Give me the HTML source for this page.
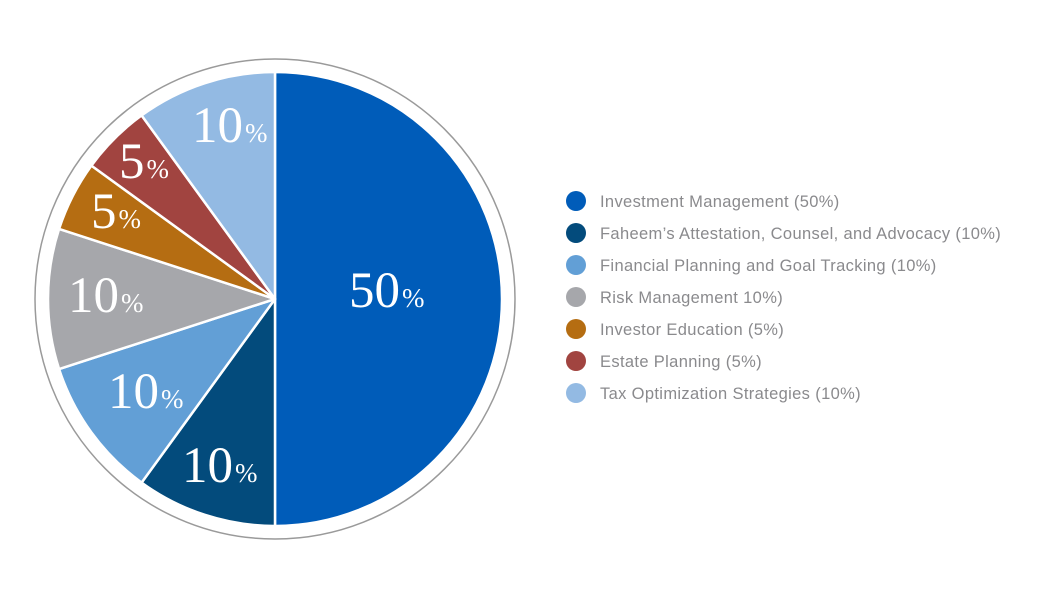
<!DOCTYPE html>
<html><head><meta charset="utf-8"><style>
html,body{margin:0;padding:0;background:#fff;width:1050px;height:600px;overflow:hidden}
svg{display:block}
.n{font-family:"Liberation Serif",serif;fill:#fff;font-size:51px}
.p{font-size:27px}
.l{font-family:"Liberation Sans",sans-serif;font-size:16.5px;fill:#8a8a8d;letter-spacing:0.35px}
</style></head><body>
<svg width="1050" height="600" viewBox="0 0 1050 600">
<circle cx="275" cy="299" r="240" fill="#fff" stroke="#9a9a9a" stroke-width="1.5"/>
<g stroke="#fff" stroke-width="2.5" stroke-linejoin="round">
<path d="M275 299 L275 72 A227 227 0 0 1 275 526 Z" fill="#005cb9"/>
<path d="M275 299 L275 526 A227 227 0 0 1 141.6 482.6 Z" fill="#034b7c"/>
<path d="M275 299 L141.6 482.6 A227 227 0 0 1 59.1 369.1 Z" fill="#629fd6"/>
<path d="M275 299 L59.1 369.1 A227 227 0 0 1 59.1 228.9 Z" fill="#a6a7ab"/>
<path d="M275 299 L59.1 228.9 A227 227 0 0 1 91.4 165.6 Z" fill="#b56d12"/>
<path d="M275 299 L91.4 165.6 A227 227 0 0 1 141.6 115.4 Z" fill="#a14440"/>
<path d="M275 299 L141.6 115.4 A227 227 0 0 1 275 72 Z" fill="#93bae3"/>
</g>
<text class="n" x="349" y="307">50<tspan class="p" dx="2">%</tspan></text>
<text class="n" x="192" y="142">10<tspan class="p" dx="2">%</tspan></text>
<text class="n" x="119" y="178">5<tspan class="p" dx="2">%</tspan></text>
<text class="n" x="91" y="228">5<tspan class="p" dx="2">%</tspan></text>
<text class="n" x="68" y="312">10<tspan class="p" dx="2">%</tspan></text>
<text class="n" x="108" y="408">10<tspan class="p" dx="2">%</tspan></text>
<text class="n" x="182" y="482">10<tspan class="p" dx="2">%</tspan></text>
<g>
<circle cx="576" cy="201" r="10" fill="#005cb9"/>
<circle cx="576" cy="233" r="10" fill="#034b7c"/>
<circle cx="576" cy="265" r="10" fill="#629fd6"/>
<circle cx="576" cy="297" r="10" fill="#a6a7ab"/>
<circle cx="576" cy="329" r="10" fill="#b56d12"/>
<circle cx="576" cy="361" r="10" fill="#a14440"/>
<circle cx="576" cy="393" r="10" fill="#93bae3"/>
</g>
<text class="l" x="600" y="207">Investment Management (50%)</text>
<text class="l" x="600" y="239">Faheem’s Attestation, Counsel, and Advocacy (10%)</text>
<text class="l" x="600" y="271">Financial Planning and Goal Tracking (10%)</text>
<text class="l" x="600" y="303">Risk Management 10%)</text>
<text class="l" x="600" y="335">Investor Education (5%)</text>
<text class="l" x="600" y="367">Estate Planning (5%)</text>
<text class="l" x="600" y="399">Tax Optimization Strategies (10%)</text>
</svg>
</body></html>
